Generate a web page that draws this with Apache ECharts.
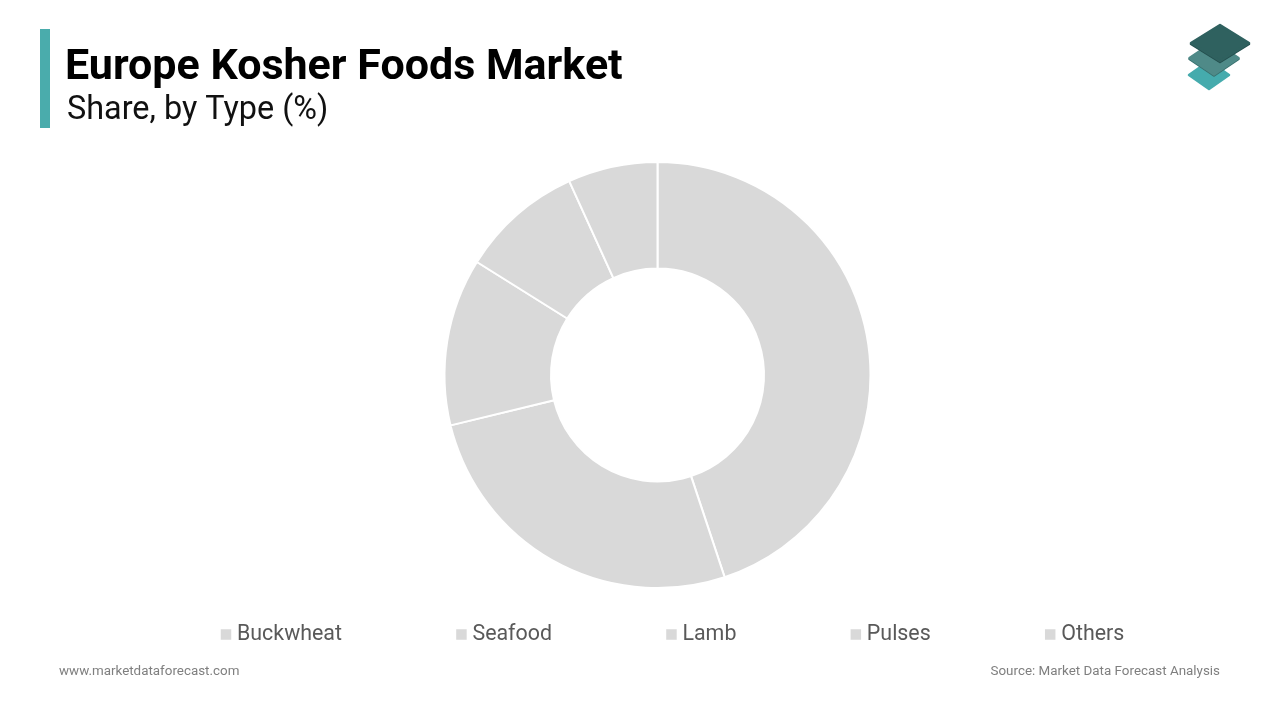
<!DOCTYPE html>
<html><head><meta charset="utf-8">
<style>html,body{margin:0;padding:0;background:#fff}#c{width:1280px;height:720px}</style>
<script src="https://cdn.jsdelivr.net/npm/echarts@6/dist/echarts.min.js"></script>
</head><body><div id="c"></div>
<script>
const categories = ["Buckwheat","Seafood","Lamb","Pulses","Others"];
const shares = [44.9,26.3,12.7,9.3,6.8];
const titleText = "Europe Kosher Foods Market";
const subtitleText = "Share, by Type (%)";
const leftNote = "www.marketdataforecast.com";
const rightNote = "Source: Market Data Forecast Analysis";
const chart = echarts.init(document.getElementById('c'));
const F = "Roboto";
function diamond(cx,cy,w,h,color,z){
  return {type:'polygon',z:z,shape:{points:[[cx-w,cy],[cx,cy-h],[cx+w,cy],[cx,cy+h]],smooth:0},style:{fill:color,stroke:color,lineWidth:2.5,lineJoin:'round'}};
}
chart.setOption({
  animation:false,
  backgroundColor:'#fff',
  title:[
    {text:titleText,left:60,top:38,textStyle:{fontFamily:F,fontSize:43,fontWeight:700,color:'#000',lineHeight:50}},
    {text:subtitleText,left:62,top:87,textStyle:{fontFamily:F,fontSize:32.4,fontWeight:400,color:'#111',lineHeight:38}},
    {text:leftNote,left:54,top:659,textStyle:{fontFamily:F,fontSize:13.4,fontWeight:400,color:'#7f7f7f',lineHeight:16}},
    {text:rightNote,right:55,top:659,textStyle:{fontFamily:F,fontSize:13.4,fontWeight:400,color:'#7f7f7f',lineHeight:16}}
  ],
  legend:{
    data:categories,left:213.75,top:619,itemWidth:12.5,itemHeight:12.5,itemGap:112.2,icon:'rect',
    textStyle:{fontFamily:F,fontSize:21.4,color:'#595959',padding:[0,0,0,-0.25]}
  },
  series:[{
    type:'pie',center:[657.5,375],radius:[106.5,213],startAngle:90,clockwise:true,
    label:{show:false},labelLine:{show:false},
    itemStyle:{color:'#d9d9d9',borderColor:'#fff',borderWidth:2},
    emphasis:{disabled:true},
    data:categories.map((n,i)=>({name:n,value:shares[i]}))
  }],
  color:['#d9d9d9','#d9d9d9','#d9d9d9','#d9d9d9','#d9d9d9'],
  graphic:[
    {type:'rect',z:5,shape:{x:40,y:29,width:10,height:99},style:{fill:'#4aacac'}},
    diamond(1209,75,20,14,'#45abad',6),
    diamond(1214,59,24.5,16.5,'#38706e',7),
    diamond(1214,58,24.5,16.5,'#4f8a88',8),
    diamond(1220,44,29,18,'#244f4e',9),
    diamond(1220,43,29,18,'#2f615f',10)
  ]
});
</script></body></html>
